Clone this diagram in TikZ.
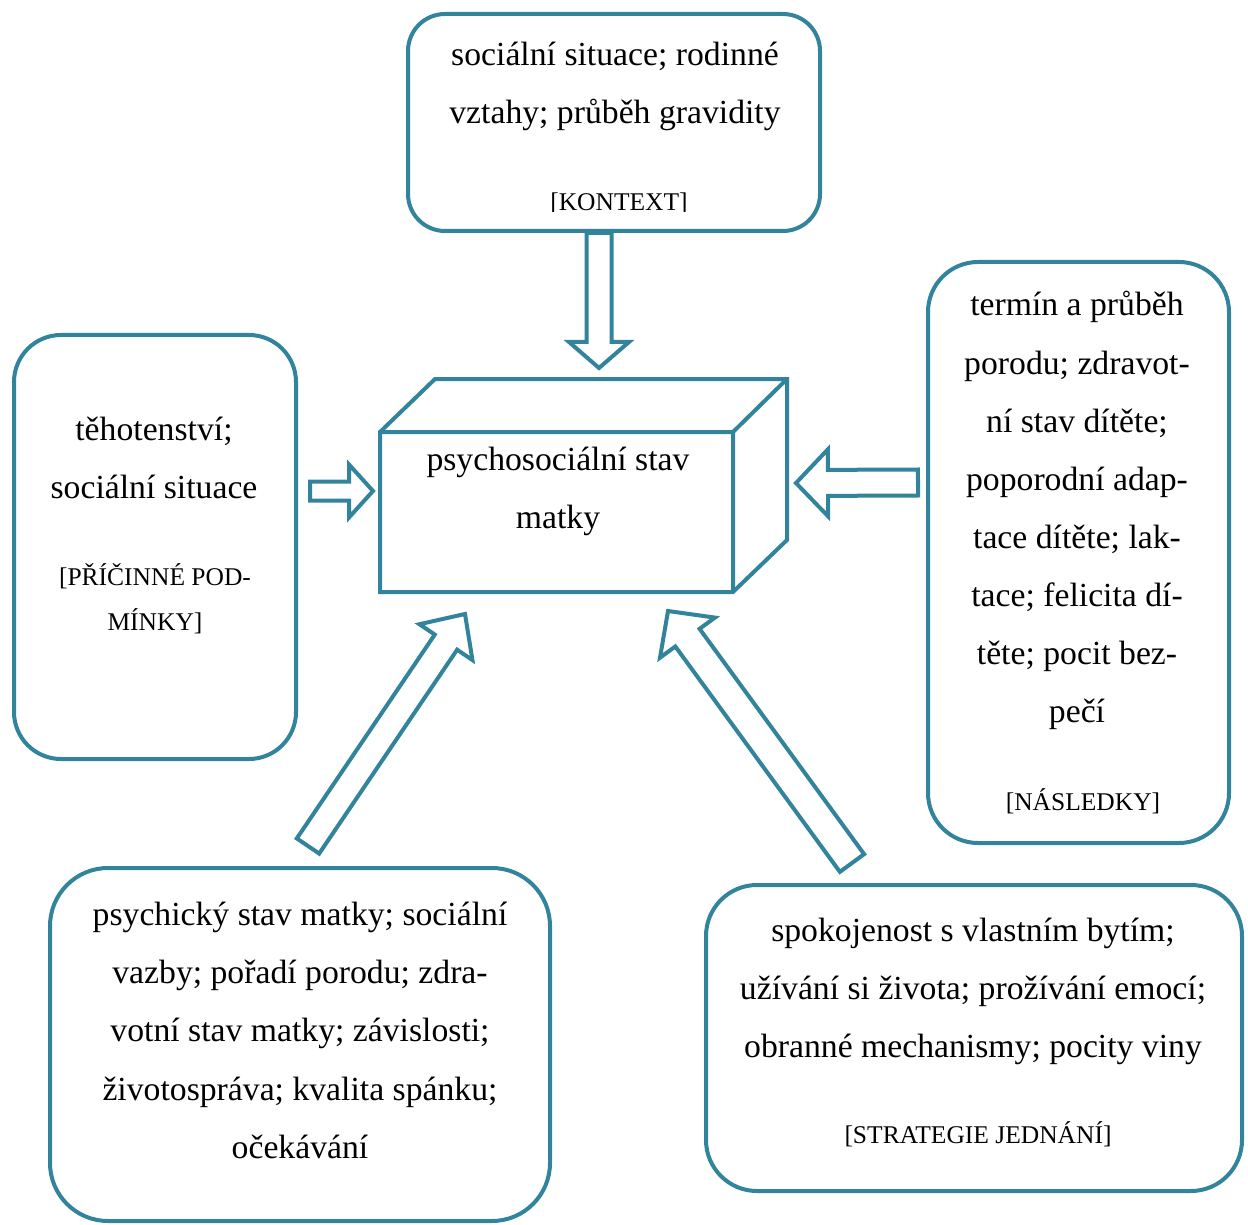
\documentclass[tikz,border=0pt]{standalone}
\usepackage{fontspec}
\setmainfont{Liberation Serif}
\usetikzlibrary{calc}
\definecolor{teal}{RGB}{49,132,155}
\tikzset{
  x=0.5pt, y=-0.5pt,
  box/.style={draw=teal, line width=2pt, fill=white, inner sep=0pt, rectangle},
  outline/.style={draw=teal, line width=2pt, fill=white, line join=miter},
  maintext/.style={inner sep=0pt, anchor=base, font=\fontsize{16.85}{20}\selectfont},
  tagtext/.style={inner sep=0pt, anchor=base, font=\fontsize{12.75}{15}\selectfont},
}
% block arrow: #1 tail, #2 tip, #3 shaft half width, #4 head half width, #5 head length
\newcommand\blockarr[5]{%
  \coordinate (neck) at ($(#2)!#5!(#1)$);
  \draw[outline] ($(#1)!#3!90:(#2)$) -- ($(neck)!#3!90:(#2)$) -- ($(neck)!#4!90:(#2)$)
    -- (#2) -- ($(neck)!#4!-90:(#2)$) -- ($(neck)!#3!-90:(#2)$) -- ($(#1)!#3!-90:(#2)$) -- cycle;}
% text lines: #1 name, #2 x, #3 first baseline, #4 step, #5 style, #6 lines
\newcommand\textlines[6]{%
  \foreach \t [count=\i] in {#6} \node[#5, name=#1-\i] at (#2, {#3+#4*(\i-1)}) {\t};}
\begin{document}
\begin{tikzpicture}
\useasboundingbox (0,0) rectangle (1248,1225);

% boxes
\node[box, minimum width=206pt, minimum height=108.5pt, rounded corners=18.5pt] (kontext) at (614,122.5) {};
\node[box, minimum width=141pt, minimum height=212pt, rounded corners=23.5pt] (pricinne) at (155,547) {};
\node[box, minimum width=150.5pt, minimum height=290.5pt, rounded corners=25pt] (nasledky) at (1078.5,552.5) {};
\node[box, minimum width=250pt, minimum height=176.5pt, rounded corners=29pt] (podminky) at (300,1044.5) {};
\node[box, minimum width=268pt, minimum height=153pt, rounded corners=25.5pt] (strategie) at (974,1038) {};

% cube
\coordinate (fa) at (380,432); \coordinate (fb) at (733,432);
\coordinate (fc) at (733,592); \coordinate (fd) at (380,592);
\coordinate (ba) at (435,379); \coordinate (bb) at (787,379); \coordinate (bc) at (787,540);
\draw[outline] (fd) -- (fa) -- (ba) -- (bb) -- (bc) -- (fc) -- cycle;
\draw[outline, fill=none] (fa) -- (fb) -- (fc) (fb) -- (bb);
\node[inner sep=0pt, minimum width=176.5pt, minimum height=80pt] (stav) at (556.5,512) {};

% arrows
\coordinate (t1) at (599,233); \coordinate (h1) at (599,368);
\blockarr{t1}{h1}{6.25pt}{15pt}{13pt}
\coordinate (t2) at (310,491); \coordinate (h2) at (373,491);
\blockarr{t2}{h2}{4.75pt}{13.25pt}{12pt}
\coordinate (t3) at (918,482.5); \coordinate (h3) at (796,483);
\blockarr{t3}{h3}{6.5pt}{16.75pt}{16pt}
\coordinate (t4) at (308,846); \coordinate (h4) at (465,614);
\blockarr{t4}{h4}{6.75pt}{16pt}{17pt}
\coordinate (t5) at (852,863); \coordinate (h5) at (668,611);
\blockarr{t5}{h5}{7.5pt}{17pt}{16.5pt}

% texts
\textlines{kt}{615}{66}{58}{maintext}{sociální situace; rodinné,vztahy; průběh gravidity}
\begin{scope}
\clip (420,170) rectangle (810,212);
\node[tagtext] (ktag) at (619,211) {[KONTEXT]};
\end{scope}

\textlines{pc}{154}{440}{58}{maintext}{těhotenství;,sociální situace}
\textlines{pctag}{155}{585}{45}{tagtext}{[PŘÍČINNÉ POD-,MÍNKY]}

\textlines{ns}{1077}{316}{58}{maintext}{termín a průběh,porodu; zdravot-,ní stav dítěte;,poporodní adap-,tace dítěte; lak-,tace; felicita dí-,těte; pocit bez-,pečí}
\node[tagtext] (nstag) at (1083,810) {[NÁSLEDKY]};

\textlines{cs}{558}{470}{58}{maintext}{psychosociální stav,matky}

\textlines{pm}{300}{925}{58.4}{maintext}{psychický stav matky; sociální,vazby; pořadí porodu; zdra-,votní stav matky; závislosti;,životospráva; kvalita spánku;,očekávání}

\textlines{st}{973}{941}{58}{maintext}{spokojenost s vlastním bytím;,užívání si života; prožívání emocí;,obranné mechanismy; pocity viny}
\node[tagtext] (sttag) at (978,1143) {[STRATEGIE JEDNÁNÍ]};
\end{tikzpicture}
\end{document}
